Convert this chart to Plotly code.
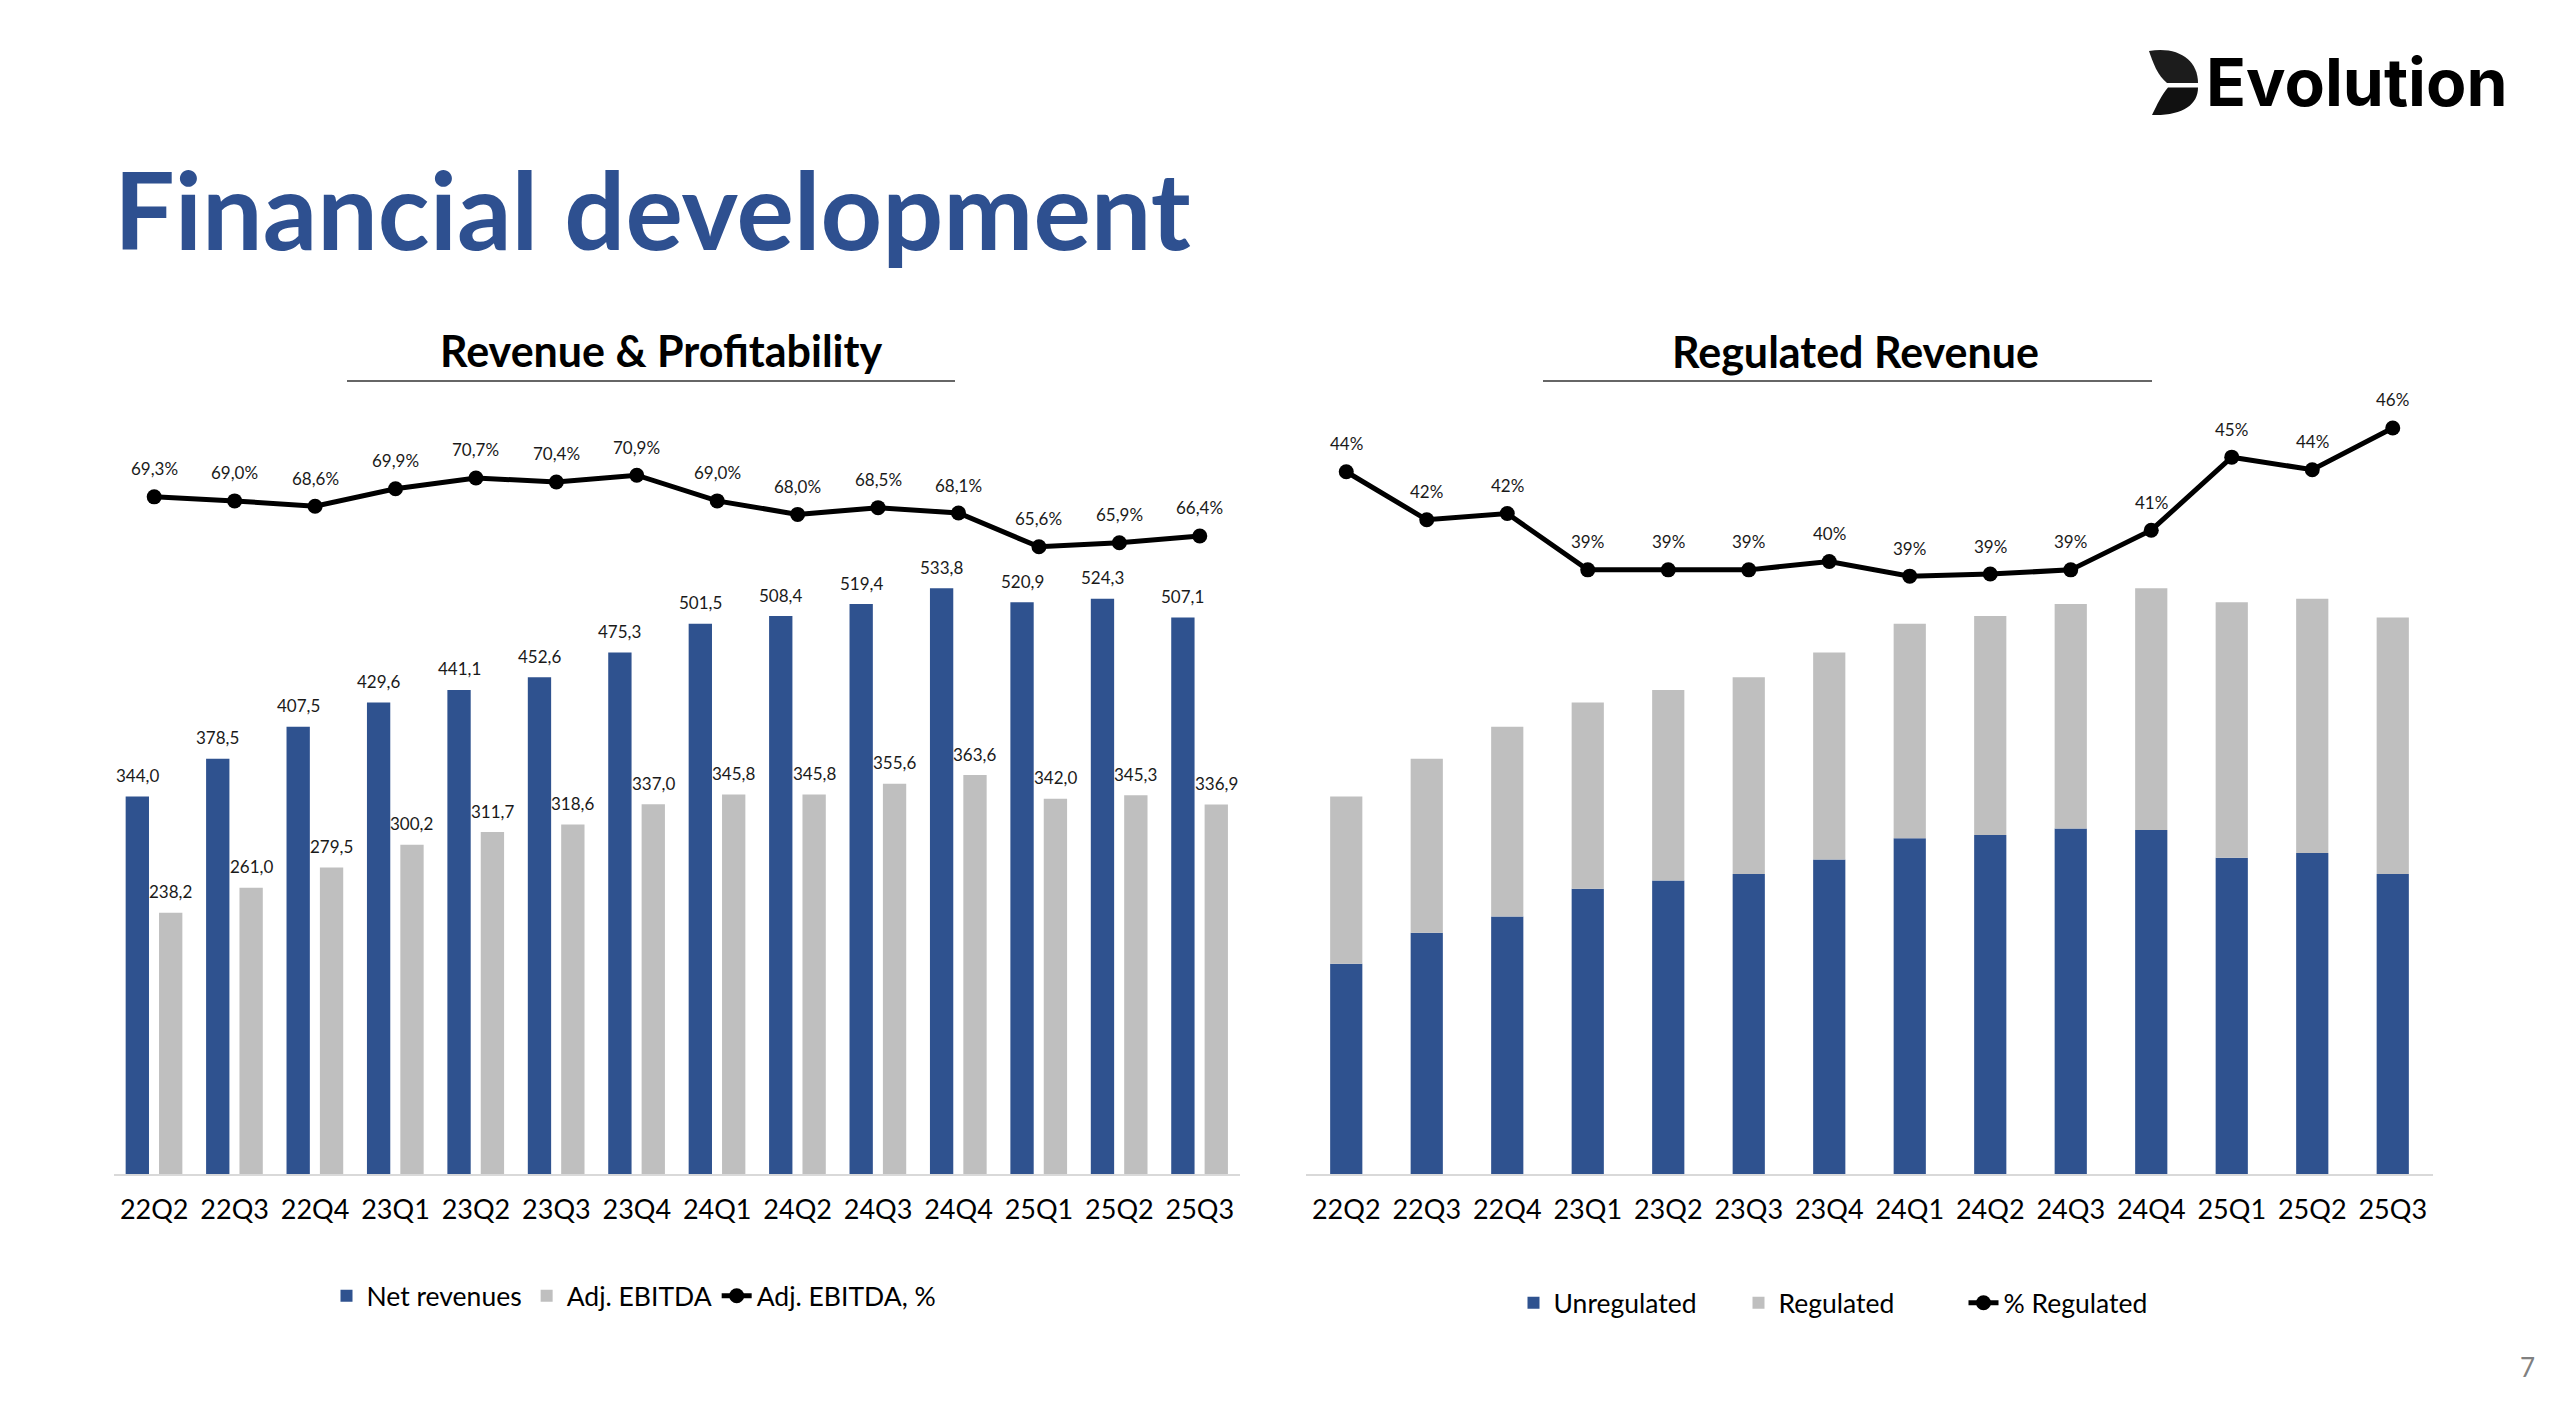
import plotly.graph_objects as go

# ---------------- data ----------------
quarters = ["22Q2", "22Q3", "22Q4", "23Q1", "23Q2", "23Q3", "23Q4",
            "24Q1", "24Q2", "24Q3", "24Q4", "25Q1", "25Q2", "25Q3"]
net_revenues = [344.0, 378.5, 407.5, 429.6, 441.1, 452.6, 475.3,
                501.5, 508.4, 519.4, 533.8, 520.9, 524.3, 507.1]
adj_ebitda = [238.2, 261.0, 279.5, 300.2, 311.7, 318.6, 337.0,
              345.8, 345.8, 355.6, 363.6, 342.0, 345.3, 336.9]
adj_ebitda_margin = [69.3, 69.0, 68.6, 69.9, 70.7, 70.4, 70.9,
                     69.0, 68.0, 68.5, 68.1, 65.6, 65.9, 66.4]
unregulated = [191.7, 219.9, 234.8, 260.0, 267.5, 273.4, 286.8,
               306.1, 309.1, 315.0, 313.5, 288.3, 292.7, 273.4]
regulated = [152.3, 158.6, 172.7, 169.6, 173.6, 179.2, 188.5,
             195.4, 199.3, 204.4, 220.3, 232.6, 231.6, 233.7]
regulated_share = [44.0, 41.7, 42.0, 39.3, 39.3, 39.3, 39.7,
                   39.0, 39.1, 39.3, 41.2, 44.7, 44.1, 46.1]

# ---------------- style ----------------
W, H = 2552, 1424
BLUE = "#2F528F"
GRAY = "#BFBFBF"
TITLE_BLUE = "#2E5090"
FONT = "Lato"
LABEL_COLOR = "#1a1a1a"


def px(x):
    return x / W


def py(y):
    return 1 - y / H


Y_DOM = [py(1174.3), py(391)]
X1_DOM = [px(114), px(1240)]
X2_DOM = [px(1306), px(2433)]
BAR_RANGE = [0, 713.4]

fig = go.Figure()

# Left chart
fig.add_trace(go.Bar(x=quarters, y=net_revenues, name="Net revenues",
                     marker=dict(color=BLUE, line=dict(width=0)),
                     width=0.29, offset=-0.355, xaxis="x", yaxis="y",
                     legend="legend"))
fig.add_trace(go.Bar(x=quarters, y=adj_ebitda, name="Adj. EBITDA",
                     marker=dict(color=GRAY, line=dict(width=0)),
                     width=0.29, offset=0.06, xaxis="x", yaxis="y",
                     legend="legend"))
fig.add_trace(go.Scatter(x=quarters, y=adj_ebitda_margin, name="Adj. EBITDA, %",
                         mode="lines+markers",
                         line=dict(color="black", width=5),
                         marker=dict(color="black", size=15),
                         xaxis="x", yaxis="y2", legend="legend"))

# Right chart
fig.add_trace(go.Bar(x=quarters, y=unregulated, name="Unregulated",
                     marker=dict(color=BLUE, line=dict(width=0)),
                     width=0.4, offset=-0.2, xaxis="x2", yaxis="y3",
                     legend="legend2"))
fig.add_trace(go.Bar(x=quarters, y=regulated, base=unregulated, name="Regulated",
                     marker=dict(color=GRAY, line=dict(width=0)),
                     width=0.4, offset=-0.2, xaxis="x2", yaxis="y3",
                     legend="legend2"))
fig.add_trace(go.Scatter(x=quarters, y=regulated_share, name="% Regulated",
                         mode="lines+markers",
                         line=dict(color="black", width=5),
                         marker=dict(color="black", size=15),
                         xaxis="x2", yaxis="y4", legend="legend2"))

annotations = []
CAT_PX = 80.4


def fmt1(v):
    return f"{v:.1f}".replace(".", ",")


for q, v in zip(quarters, net_revenues):
    annotations.append(dict(x=q, y=v, xref="x", yref="y", text=fmt1(v),
                            showarrow=False, xshift=(-0.355 + 0.145) * CAT_PX,
                            yshift=21, yanchor="middle",
                            font=dict(family=FONT, size=17, color=LABEL_COLOR)))
for q, v in zip(quarters, adj_ebitda):
    annotations.append(dict(x=q, y=v, xref="x", yref="y", text=fmt1(v),
                            showarrow=False, xshift=(0.06 + 0.145) * CAT_PX,
                            yshift=21, yanchor="middle",
                            font=dict(family=FONT, size=17, color=LABEL_COLOR)))
for q, v in zip(quarters, adj_ebitda_margin):
    annotations.append(dict(x=q, y=v, xref="x", yref="y2", text=fmt1(v) + "%",
                            showarrow=False, yshift=28, yanchor="middle",
                            font=dict(family=FONT, size=17, color=LABEL_COLOR)))
for q, v in zip(quarters, regulated_share):
    annotations.append(dict(x=q, y=v, xref="x2", yref="y4", text=f"{v:.0f}%",
                            showarrow=False, yshift=28, yanchor="middle",
                            font=dict(family=FONT, size=17, color=LABEL_COLOR)))

# Titles and page text
annotations.append(dict(x=px(112), y=py(208), xref="paper", yref="paper",
                        xanchor="left", yanchor="middle", showarrow=False,
                        text="<b>Financial development</b>",
                        font=dict(family=FONT, size=107.5, color=TITLE_BLUE)))
annotations.append(dict(x=px(661), y=py(351), xref="paper", yref="paper",
                        xanchor="center", yanchor="middle", showarrow=False,
                        text="<b>Revenue &amp; Profitability</b>",
                        font=dict(family=FONT, size=43, color="#000000")))
annotations.append(dict(x=px(1855), y=py(352), xref="paper", yref="paper",
                        xanchor="center", yanchor="middle", showarrow=False,
                        text="<b>Regulated Revenue</b>",
                        font=dict(family=FONT, size=43, color="#000000")))
annotations.append(dict(x=px(2204), y=py(82), xref="paper", yref="paper",
                        xanchor="left", yanchor="middle", showarrow=False,
                        text="<b>Evolution</b>",
                        font=dict(family="Inter", size=66, color="#000000")))
annotations.append(dict(x=px(2527), y=py(1367), xref="paper", yref="paper",
                        xanchor="center", yanchor="middle", showarrow=False,
                        text="7",
                        font=dict(family=FONT, size=26, color="#808080")))


def path(cmds):
    out = []
    for c in cmds:
        if isinstance(c, str):
            out.append(c)
        else:
            out.append(f"{px(c[0]):.5f},{py(c[1]):.5f}")
    return " ".join(out)


shapes = [
    dict(type="line", xref="paper", yref="paper", x0=px(347), x1=px(955),
         y0=py(381), y1=py(381), line=dict(color="#333333", width=1.5)),
    dict(type="line", xref="paper", yref="paper", x0=px(1543), x1=px(2152),
         y0=py(381), y1=py(381), line=dict(color="#333333", width=1.5)),
    dict(type="path", xref="paper", yref="paper", line=dict(width=0),
         fillcolor="#1c1c1c",
         path=path(["M", (2149, 51), "C", (2178, 46), (2198, 60), (2198, 83),
                    "L", (2167, 83), "C", (2158, 76), (2153, 63), (2149, 51), "Z"])),
    dict(type="path", xref="paper", yref="paper", line=dict(width=0),
         fillcolor="#111111",
         path=path(["M", (2168, 87.5), "L", (2198, 87.5), "C", (2198, 105),
                    (2182, 116), (2152, 115), "C", (2157, 105), (2162, 94),
                    (2168, 87.5), "Z"])),
]

xaxis_common = dict(type="category", showgrid=False, zeroline=False,
                    showline=True, linecolor="#D9D9D9", linewidth=2,
                    ticks="outside", ticklen=10, tickcolor="rgba(0,0,0,0)",
                    tickfont=dict(family=FONT, size=27, color="#000000"),
                    range=[-0.5, 13.5], fixedrange=True)
yaxis_hidden = dict(visible=False, showgrid=False, zeroline=False, fixedrange=True)

fig.update_layout(
    width=W, height=H,
    margin=dict(l=0, r=0, t=0, b=0),
    paper_bgcolor="white", plot_bgcolor="rgba(0,0,0,0)",
    barmode="overlay",
    font=dict(family=FONT, color="#000000"),
    xaxis=dict(domain=X1_DOM, anchor="y", **xaxis_common),
    xaxis2=dict(domain=X2_DOM, anchor="y3", **xaxis_common),
    yaxis=dict(domain=Y_DOM, anchor="x", range=BAR_RANGE, **yaxis_hidden),
    yaxis2=dict(overlaying="y", anchor="x", range=[19.12, 77.14], **yaxis_hidden),
    yaxis3=dict(domain=Y_DOM, anchor="x2", range=BAR_RANGE, **yaxis_hidden),
    yaxis4=dict(overlaying="y3", anchor="x2", range=[10.34, 47.87], **yaxis_hidden),
    legend=dict(orientation="h", x=px(634), xanchor="center", y=py(1296),
                yanchor="middle", bgcolor="rgba(0,0,0,0)",
                font=dict(family=FONT, size=26.5, color="#000000")),
    legend2=dict(orientation="h", x=px(1851), xanchor="center", y=py(1303),
                 yanchor="middle", bgcolor="rgba(0,0,0,0)",
                 entrywidth=180, entrywidthmode="pixels",
                 font=dict(family=FONT, size=26.5, color="#000000")),
    annotations=annotations,
    shapes=shapes,
    showlegend=True,
    hovermode=False,
)

fig.write_html("out.html", config={"displayModeBar": False})
